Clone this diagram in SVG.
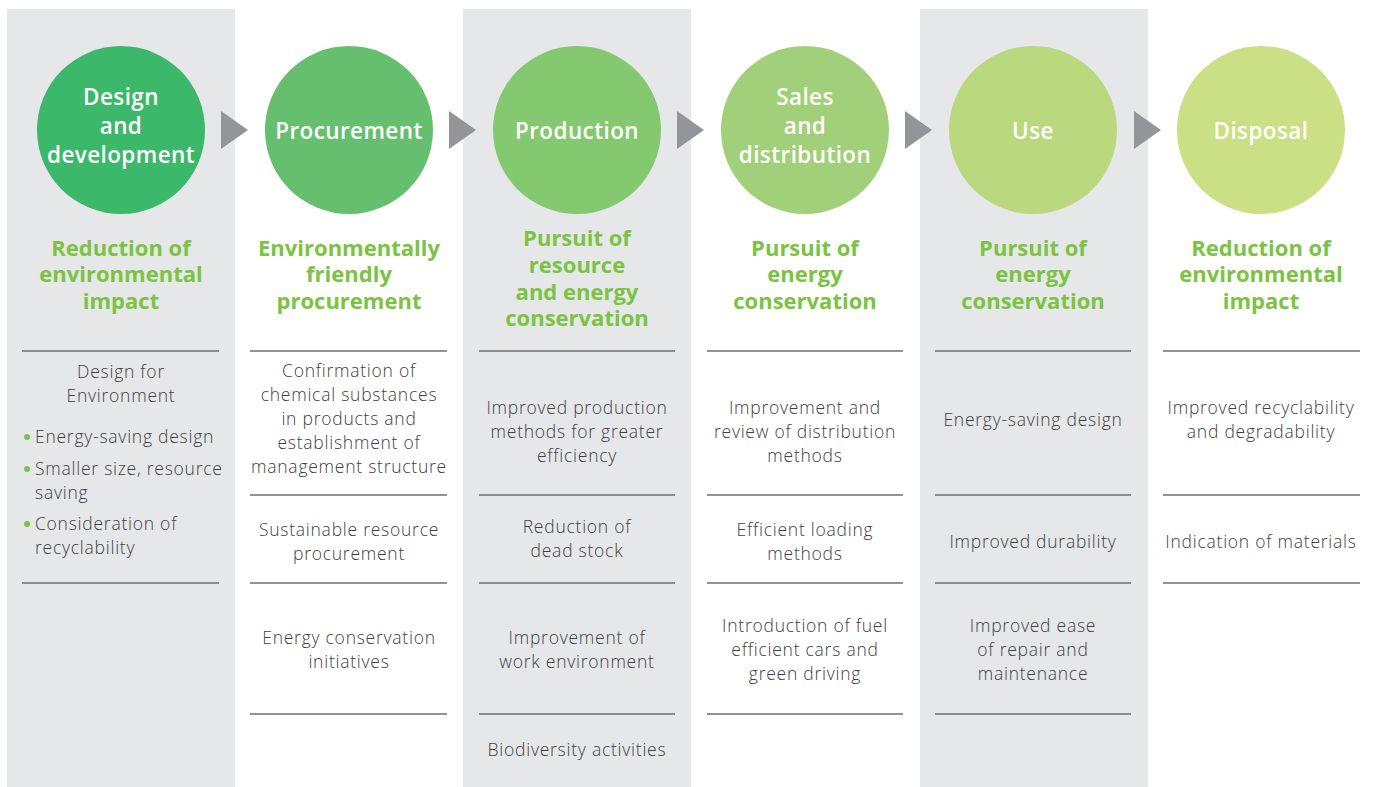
<svg xmlns="http://www.w3.org/2000/svg" width="1374" height="787" viewBox="0 0 1374 787">
<style>
.bg{fill:#e6e7e8}
.ct{font-family:"Open Sans",Lato,sans-serif;font-weight:600;font-size:22.5px;letter-spacing:0.4px;fill:#fff;text-anchor:middle}
.hd{font-family:"Open Sans",Lato,sans-serif;font-weight:700;font-size:22px;fill:#7cc243;text-anchor:middle}
.bd{font-family:"Open Sans",Lato,sans-serif;font-weight:300;font-size:17.5px;letter-spacing:0.75px;fill:#414042;text-anchor:middle}
.bl{text-anchor:start}
.ln{stroke:#6d6e71;stroke-width:1.5}
.ar{fill:#939598}
.dot{fill:#7cc243}
</style>
<rect width="1374" height="787" fill="#fff"/>
<rect class="bg" x="7" y="9" width="228" height="778"/>
<rect class="bg" x="463" y="9" width="228" height="778"/>
<rect class="bg" x="920" y="9" width="228" height="778"/>
<g id="connectors">
<polygon class="ar" points="221,111 248,130 221,149"/>
<polygon class="ar" points="449,111 476,130 449,149"/>
<polygon class="ar" points="677,111 704,130 677,149"/>
<polygon class="ar" points="905,111 932,130 905,149"/>
<polygon class="ar" points="1134,111 1161,130 1134,149"/>
</g>
<g id="design">
<circle cx="121" cy="130" r="84" fill="#3cb86a"/>
<text class="ct" x="121" y="105">Design</text>
<text class="ct" x="121" y="134">and</text>
<text class="ct" x="121" y="163">development</text>
<text class="hd" x="121" y="256">Reduction of</text>
<text class="hd" x="121" y="282">environmental</text>
<text class="hd" x="121" y="309">impact</text>
<line class="ln" x1="22" y1="351" x2="219" y2="351"/>
<text class="bd" x="121" y="378">Design for</text>
<text class="bd" x="121" y="402">Environment</text>
<circle class="dot" cx="27" cy="437" r="3"/>
<circle class="dot" cx="27" cy="469" r="3"/>
<circle class="dot" cx="27" cy="524" r="3"/>
<text class="bd bl" x="35" y="443">Energy-saving design</text>
<text class="bd bl" x="35" y="475">Smaller size, resource</text>
<text class="bd bl" x="35" y="499">saving</text>
<text class="bd bl" x="35" y="530">Consideration of</text>
<text class="bd bl" x="35" y="554">recyclability</text>
<line class="ln" x1="22" y1="583" x2="219" y2="583"/>
</g>
<g id="procurement">
<circle cx="349" cy="130" r="84" fill="#66bf6e"/>
<text class="ct" x="349" y="139">Procurement</text>
<text class="hd" x="349" y="256">Environmentally</text>
<text class="hd" x="349" y="282">friendly</text>
<text class="hd" x="349" y="309">procurement</text>
<line class="ln" x1="250" y1="351" x2="447" y2="351"/>
<text class="bd" x="349" y="377">Confirmation of</text>
<text class="bd" x="349" y="401">chemical substances</text>
<text class="bd" x="349" y="425">in products and</text>
<text class="bd" x="349" y="449">establishment of</text>
<text class="bd" x="349" y="473">management structure</text>
<line class="ln" x1="250" y1="495" x2="447" y2="495"/>
<text class="bd" x="349" y="536">Sustainable resource</text>
<text class="bd" x="349" y="560">procurement</text>
<line class="ln" x1="250" y1="583" x2="447" y2="583"/>
<text class="bd" x="349" y="644">Energy conservation</text>
<text class="bd" x="349" y="668">initiatives</text>
<line class="ln" x1="250" y1="714" x2="447" y2="714"/>
</g>
<g id="production">
<circle cx="577" cy="130" r="84" fill="#84c870"/>
<text class="ct" x="577" y="139">Production</text>
<text class="hd" x="577" y="246">Pursuit of</text>
<text class="hd" x="577" y="273">resource</text>
<text class="hd" x="577" y="300">and energy</text>
<text class="hd" x="577" y="326">conservation</text>
<line class="ln" x1="479" y1="351" x2="675" y2="351"/>
<text class="bd" x="577" y="414">Improved production</text>
<text class="bd" x="577" y="438">methods for greater</text>
<text class="bd" x="577" y="462">efficiency</text>
<line class="ln" x1="479" y1="495" x2="675" y2="495"/>
<text class="bd" x="577" y="533">Reduction of</text>
<text class="bd" x="577" y="557">dead stock</text>
<line class="ln" x1="479" y1="583" x2="675" y2="583"/>
<text class="bd" x="577" y="644">Improvement of</text>
<text class="bd" x="577" y="668">work environment</text>
<line class="ln" x1="479" y1="714" x2="675" y2="714"/>
<text class="bd" x="577" y="756">Biodiversity activities</text>
</g>
<g id="sales">
<circle cx="805" cy="130" r="84" fill="#a2d07a"/>
<text class="ct" x="805" y="105">Sales</text>
<text class="ct" x="805" y="134">and</text>
<text class="ct" x="805" y="163">distribution</text>
<text class="hd" x="805" y="256">Pursuit of</text>
<text class="hd" x="805" y="282">energy</text>
<text class="hd" x="805" y="309">conservation</text>
<line class="ln" x1="707" y1="351" x2="903" y2="351"/>
<text class="bd" x="805" y="414">Improvement and</text>
<text class="bd" x="805" y="438">review of distribution</text>
<text class="bd" x="805" y="462">methods</text>
<line class="ln" x1="707" y1="495" x2="903" y2="495"/>
<text class="bd" x="805" y="536">Efficient loading</text>
<text class="bd" x="805" y="560">methods</text>
<line class="ln" x1="707" y1="583" x2="903" y2="583"/>
<text class="bd" x="805" y="632">Introduction of fuel</text>
<text class="bd" x="805" y="656">efficient cars and</text>
<text class="bd" x="805" y="680">green driving</text>
<line class="ln" x1="707" y1="714" x2="903" y2="714"/>
</g>
<g id="use">
<circle cx="1033" cy="130" r="84" fill="#bad87e"/>
<text class="ct" x="1033" y="139">Use</text>
<text class="hd" x="1033" y="256">Pursuit of</text>
<text class="hd" x="1033" y="282">energy</text>
<text class="hd" x="1033" y="309">conservation</text>
<line class="ln" x1="935" y1="351" x2="1131" y2="351"/>
<text class="bd" x="1033" y="426">Energy-saving design</text>
<line class="ln" x1="935" y1="495" x2="1131" y2="495"/>
<text class="bd" x="1033" y="548">Improved durability</text>
<line class="ln" x1="935" y1="583" x2="1131" y2="583"/>
<text class="bd" x="1033" y="632">Improved ease</text>
<text class="bd" x="1033" y="656">of repair and</text>
<text class="bd" x="1033" y="680">maintenance</text>
<line class="ln" x1="935" y1="714" x2="1131" y2="714"/>
</g>
<g id="disposal">
<circle cx="1261" cy="130" r="84" fill="#cbdf84"/>
<text class="ct" x="1261" y="139">Disposal</text>
<text class="hd" x="1261" y="256">Reduction of</text>
<text class="hd" x="1261" y="282">environmental</text>
<text class="hd" x="1261" y="309">impact</text>
<line class="ln" x1="1163" y1="351" x2="1360" y2="351"/>
<text class="bd" x="1261" y="414">Improved recyclability</text>
<text class="bd" x="1261" y="438">and degradability</text>
<line class="ln" x1="1163" y1="495" x2="1360" y2="495"/>
<text class="bd" x="1261" y="548">Indication of materials</text>
<line class="ln" x1="1163" y1="583" x2="1360" y2="583"/>
</g>
</svg>
